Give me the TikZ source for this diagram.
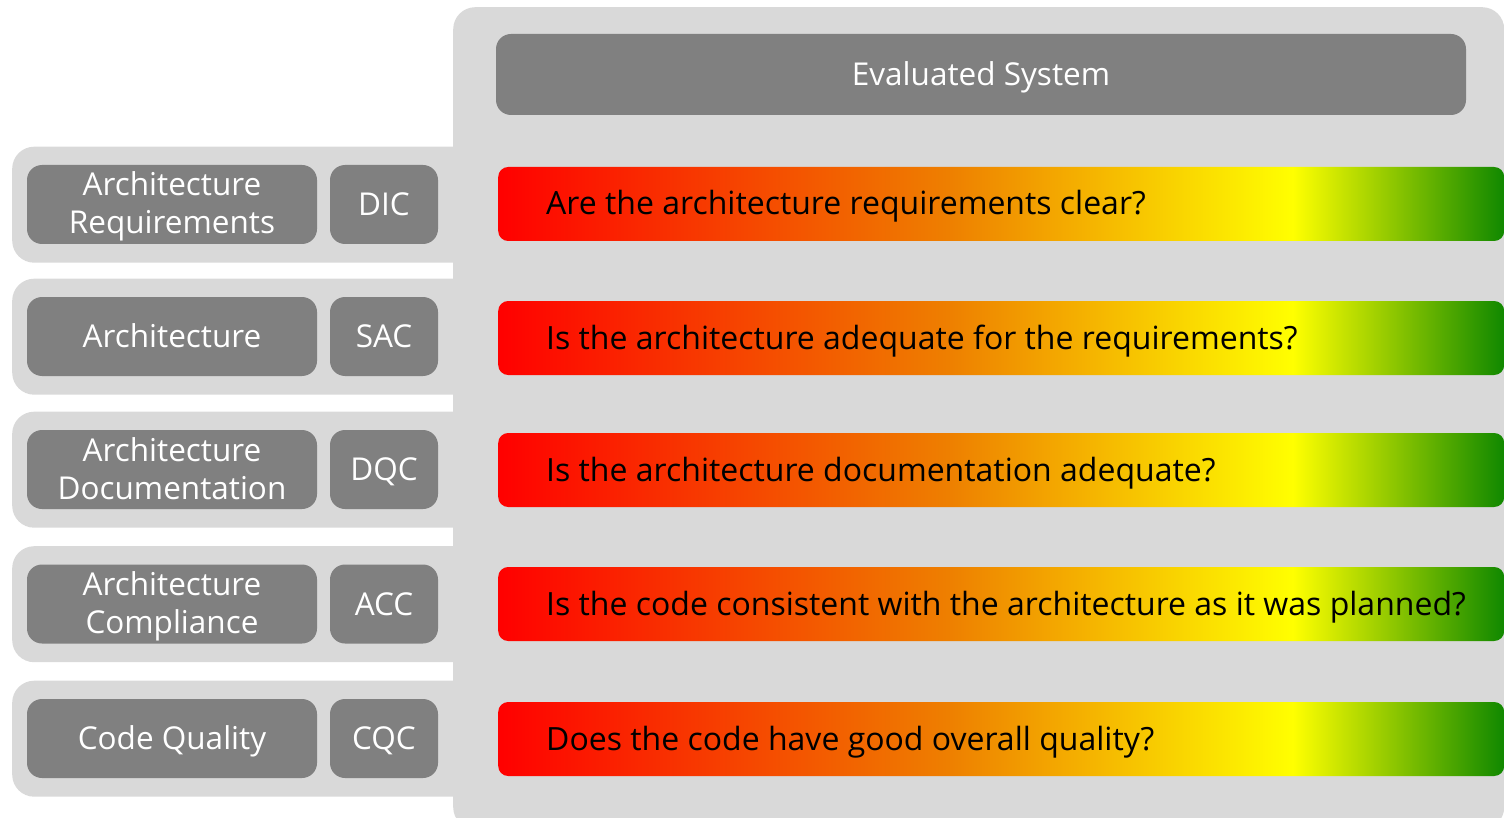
\documentclass[tikz,border=0pt]{standalone}
\usepackage{fontspec}
\setmainfont{Open Sans}
\definecolor{panelgray}{RGB}{217,217,217}
\definecolor{boxgray}{RGB}{128,128,128}
\definecolor{tlred}{RGB}{255,0,0}
\definecolor{tlorange}{RGB}{238,128,0}
\definecolor{tlyellow}{RGB}{255,255,0}
\definecolor{tlgreen}{RGB}{16,136,0}
% red -> orange -> yellow -> green, mapped onto the 25bp..75bp band
\pgfdeclarehorizontalshading{traffic}{100bp}{%
  color(0bp)=(tlred); color(25bp)=(tlred);
  color(47.5bp)=(tlorange); color(64.5bp)=(tlyellow);
  color(75bp)=(tlgreen); color(100bp)=(tlgreen)}
\tikzset{
  panel/.style={fill=panelgray, rounded corners=22pt, inner sep=0pt, anchor=north west},
  tag/.style={fill=boxgray, rounded corners=15pt, inner sep=0pt, minimum height=79pt},
  namebox/.style={tag, minimum width=290pt},
  abbrbox/.style={tag, minimum width=108pt},
  tagtext/.style={text=white, align=center, inner sep=0pt, anchor=base,
    font=\fontsize{31.5}{38}\selectfont},
  bar/.style={shading=traffic, rounded corners=10pt, minimum width=1006pt,
    minimum height=74pt, inner sep=0pt, anchor=west},
  qtext/.style={font=\fontsize{32}{38}\selectfont, text=black, inner sep=0pt, anchor=base west}
}
\begin{document}
\begin{tikzpicture}[x=1pt,y=-1pt]
\useasboundingbox (0,0) rectangle (1504,818);

% large panel holding the evaluated system
\node[panel, minimum width=1051pt, minimum height=822pt] (sys) at (453,7) {};
\node[fill=boxgray, rounded corners=15pt, minimum width=970pt, minimum height=81pt,
  inner sep=0pt] (es) at (981,74.5) {};
\node[tagtext] (est) at (981,86) {Evaluated System};

% one row per check: side panel, name, abbreviation, question bar
% (\off is the baseline of the last line of the name, below the row centre)
\foreach \i/\yc/\yb/\off/\name/\abbr/\q in {
  1/204.5/204/29.5/{Architecture\\Requirements}/DIC/{Are the architecture requirements clear?},
  2/336.5/338/11/{Architecture}/SAC/{Is the architecture adequate for the requirements?},
  3/469.5/470/29.5/{Architecture\\Documentation}/DQC/{Is the architecture documentation adequate?},
  4/604/604/29.5/{Architecture\\Compliance}/ACC/{Is the code consistent with the architecture as it was planned?},
  5/738.5/739/11/{Code Quality}/CQC/{Does the code have good overall quality?}}{
  \node[panel, minimum width=470pt, minimum height=116pt] (row\i) at (12,\yc-58) {};
  \node[namebox] (name\i) at (172,\yc) {};
  \node[tagtext] (namet\i) at (172,\yc+\off) {\name};
  \node[abbrbox] (abbr\i) at (384,\yc) {};
  \node[tagtext] (abbrt\i) at (384,\yc+11) {\abbr};
  \node[bar] (bar\i) at (498,\yb) {};
  \node[qtext] (q\i) at ([xshift=48pt,yshift=-11pt]bar\i.west) {\q};
}
\end{tikzpicture}
\end{document}
